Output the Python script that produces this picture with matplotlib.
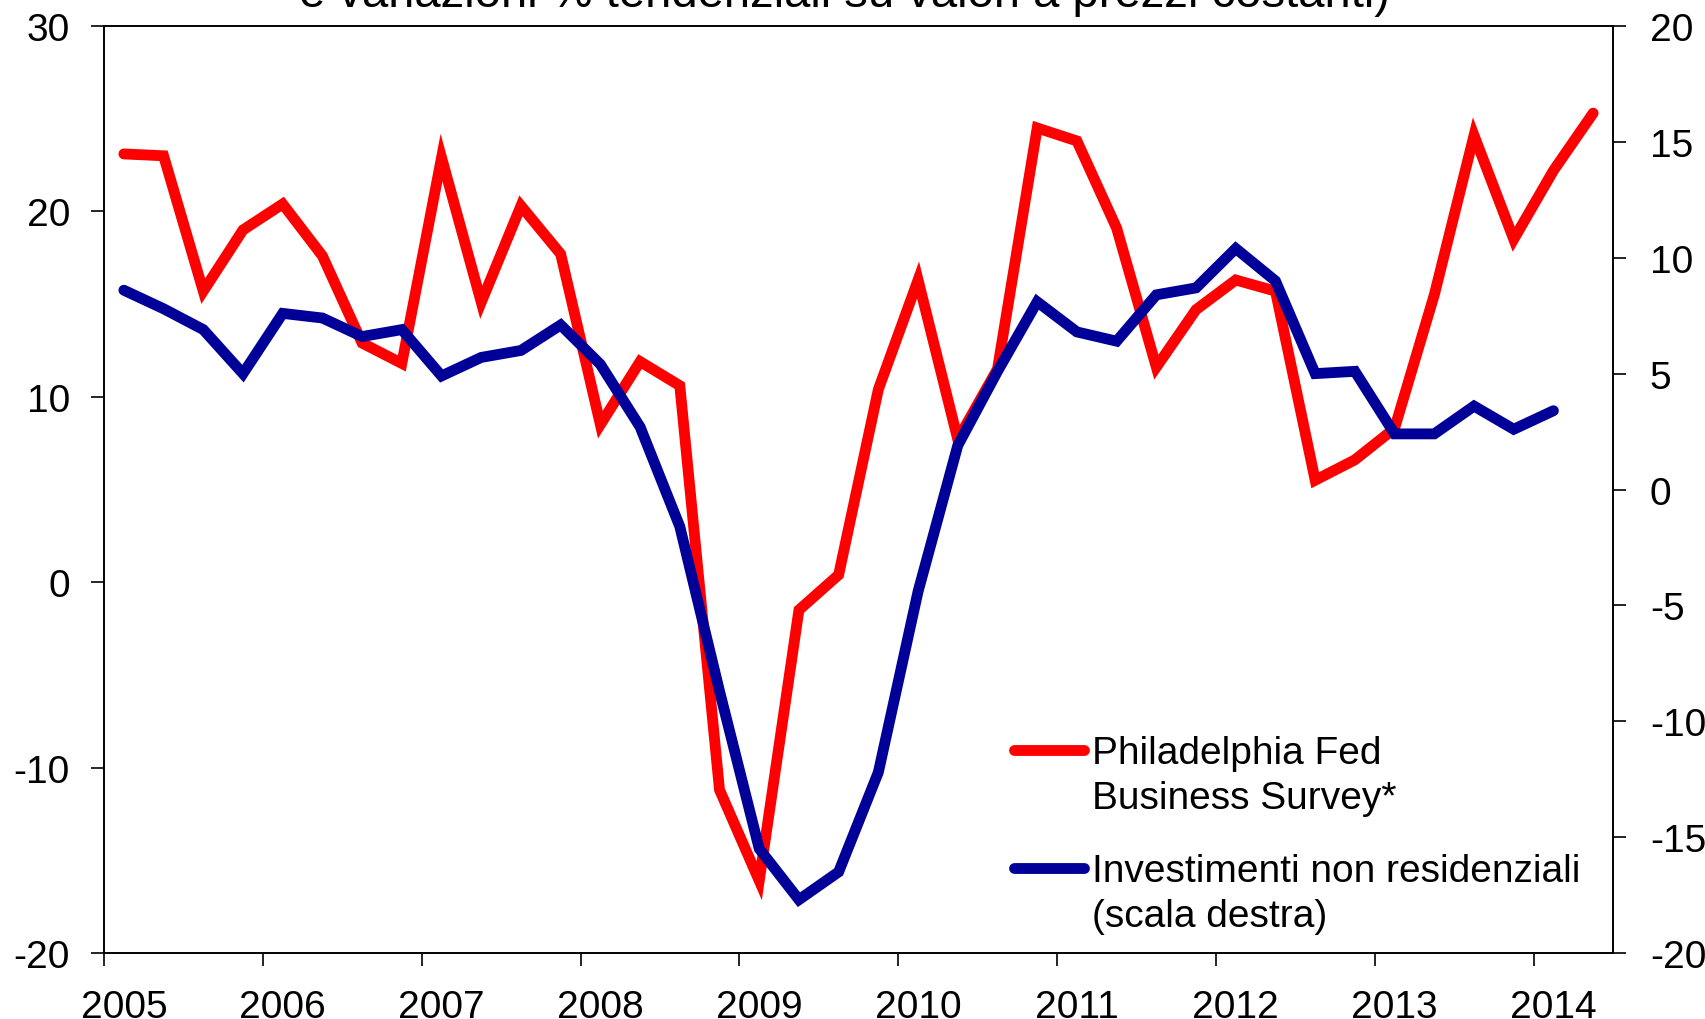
import numpy as np
import matplotlib
matplotlib.use("Agg")
import matplotlib.pyplot as plt
from matplotlib.legend_handler import HandlerLine2D

plt.rcParams['font.family'] = ['Liberation Sans', 'DejaVu Sans']
plt.rcParams['axes.unicode_minus'] = False

# trimestrale, 2005T1 - 2014T2
years = ['2005', '2006', '2007', '2008', '2009', '2010', '2011', '2012', '2013', '2014']
philly = [23.1, 23.0, 15.7, 19.0, 20.4, 17.6, 12.9, 11.8, 22.9, 15.1,
          20.3, 17.7, 8.5, 11.9, 10.6, -11.2, -16.1, -1.5, 0.4, 10.4,
          16.3, 7.7, 11.5, 24.5, 23.8, 19.1, 11.6, 14.7, 16.3, 15.7,
          5.5, 6.6, 8.3, 15.5, 24.1, 18.5, 22.2, 25.3]
invest = [8.6, 7.8, 6.9, 5.0, 7.6, 7.4, 6.6, 6.9, 4.9, 5.7,
          6.0, 7.1, 5.4, 2.7, -1.6, -8.7, -15.5, -17.7, -16.5, -12.2,
          -4.4, 1.9, 5.1, 8.1, 6.8, 6.4, 8.4, 8.7, 10.4, 9.0,
          5.0, 5.1, 2.4, 2.4, 3.6, 2.6, 3.4]
title_txt = "e variazioni % tendenziali su valori a prezzi costanti)"
lab_red = "Philadelphia Fed\nBusiness Survey*"
lab_blue = "Investimenti non residenziali\n(scala destra)"

FS = 28


class TopLine(HandlerLine2D):
    # sposta il tratto in legenda sulla prima riga del testo
    def __init__(self, shift, **kw):
        super().__init__(**kw)
        self.shift = shift

    def create_artists(self, legend, orig_handle, xdescent, ydescent, width, height, fontsize, trans):
        arts = super().create_artists(legend, orig_handle, xdescent, ydescent, width, height, fontsize, trans)
        for a in arts:
            a.set_ydata(np.asarray(a.get_ydata()) + self.shift * fontsize)
        return arts


fig = plt.figure(figsize=(17.06, 10.2), dpi=100)
ax = fig.add_axes([0.06096, 0.0647, 0.88453, 0.90882])
ax2 = ax.twinx()

x1 = np.arange(len(philly))
x2 = np.arange(len(invest))
l1, = ax.plot(x1, philly, color='#FF0000', lw=7.8, solid_capstyle='round', solid_joinstyle='miter')
l2, = ax2.plot(x2, invest, color='#000099', lw=7.8, solid_capstyle='round', solid_joinstyle='miter')

ax.set_xlim(-0.5, len(philly) - 0.5)
ax.set_ylim(-20, 30)
ax.set_yticks([30, 20, 10, 0, -10, -20])
ax2.set_ylim(-20, 20)
ax2.set_yticks(np.arange(-20, 21, 5))

ax.set_xticks(np.arange(-0.5, len(philly), 4))
ax.set_xticklabels([])
ax.set_xticks(np.arange(0, len(philly), 4), minor=True)
ax.set_xticklabels(years, minor=True)
ax.tick_params(axis='x', which='major', direction='out', length=9.5, width=1.2)
ax.tick_params(axis='x', which='minor', length=0, pad=26, labelsize=FS)
ax.tick_params(axis='y', direction='out', length=9.5, width=1.2, pad=15, labelsize=FS)
ax2.tick_params(axis='y', direction='out', length=9.5, width=1.2, pad=17, labelsize=FS)
for a in (ax, ax2):
    for s in a.spines.values():
        s.set_linewidth(1.2)

leg = ax2.legend([l1, l2], [lab_red, lab_blue], loc='upper left', bbox_to_anchor=(0.603, 0.235),
                 frameon=False, fontsize=FS, borderpad=0, borderaxespad=0, handlelength=1.8,
                 handletextpad=0.2, labelspacing=0.95,
                 handler_map={l1: TopLine(0.66), l2: TopLine(0.66)})
for t in leg.get_texts():
    t.set_linespacing(1.32)

fig.text(0.4947, 1 - 7 / 1020, title_txt, ha='center', va='baseline', fontsize=34)

fig.savefig('out.png', dpi=100)
